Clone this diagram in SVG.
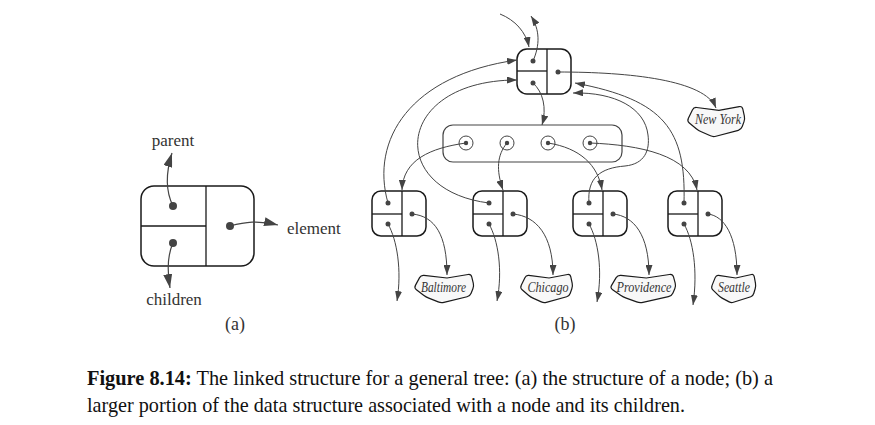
<svg xmlns="http://www.w3.org/2000/svg" width="875" height="425" viewBox="0 0 875 425">
<style>
.box{fill:#fff;stroke:#1a1a1a;stroke-width:1.5}
.div{stroke:#1a1a1a;stroke-width:1.3;fill:none}
.dot{fill:#444}
.con{fill:none;stroke:#444;stroke-width:1;marker-end:url(#ah)}
.conA{fill:none;stroke:#444;stroke-width:1.2;marker-end:url(#ahA)}
.blob{fill:#f8f8f8;stroke:#1a1a1a;stroke-width:1.2;vector-effect:non-scaling-stroke}
</style>
<defs>
<marker id="ah" markerUnits="userSpaceOnUse" markerWidth="10" markerHeight="7" refX="10" refY="3.5" orient="auto" viewBox="0 0 10 7">
<path d="M0,0 L10,3.5 L0,7 z" fill="#444"/>
</marker>
<marker id="ahA" markerUnits="userSpaceOnUse" markerWidth="14" markerHeight="9" refX="14" refY="4.5" orient="auto" viewBox="0 0 14 9">
<path d="M0,0 L14,4.5 L0,9 z" fill="#444"/>
</marker>
<path id="blobShape" class="blob" d="M1.42,12.36 L5.58,4.64 Q7,2 9.98,2.35 L33,5 L54.04,1.49 Q57,1 57.73,3.91 L59.27,10.09 Q60,13 58.89,15.78 L57.11,20.22 Q56,23 53.08,23.71 L29.92,29.3 Q27,30 24.22,28.89 L14.78,25.11 Q12,24 9.6,22.2 L2.4,16.8 Q0,15 1.42,12.36 Z"/>
</defs>

<!-- (a) -->
<g id="nodeA">
<rect class="box" x="141" y="186" width="113" height="80" rx="13"/>
<line class="div" x1="206" y1="186" x2="206" y2="266"/>
<line class="div" x1="141" y1="226" x2="206" y2="226"/>
<circle class="dot" cx="173" cy="206" r="4"/>
<circle class="dot" cx="173" cy="243" r="4"/>
<circle class="dot" cx="230" cy="226" r="4"/>
</g>
<g id="connectorsA">
<path class="conA" d="M173,206 C165,190 166,172 172,153"/>
<path class="conA" d="M173,243 C167,256 167,270 170,288"/>
<path class="conA" d="M230,226 C245,222 258,220 278,225"/>
</g>
<g font-family="'Liberation Serif','Times New Roman',serif" font-size="17" fill="#333">
<text x="173" y="146" text-anchor="middle">parent</text>
<text x="287" y="234">element</text>
<text x="174" y="305" text-anchor="middle">children</text>
<text x="235" y="330" text-anchor="middle" font-size="18">(a)</text>
<text x="565" y="330" text-anchor="middle" font-size="18">(b)</text>
</g>

<!-- (b) -->
<g id="topNode">
<rect class="box" x="517" y="49" width="54" height="45" rx="10"/>
<line class="div" x1="547" y1="49" x2="547" y2="94"/>
<line class="div" x1="517" y1="71" x2="547" y2="71"/>
<circle class="dot" cx="533" cy="61" r="2.5"/>
<circle class="dot" cx="533" cy="83" r="2.5"/>
<circle class="dot" cx="558" cy="72" r="2.5"/>
</g>
<g id="container">
<rect x="443" y="125" width="179" height="37" rx="10" fill="#fff" stroke="#444" stroke-width="1.2"/>
<circle cx="466" cy="143" r="7" fill="none" stroke="#444"/>
<circle cx="507" cy="143" r="7" fill="none" stroke="#444"/>
<circle cx="548" cy="143" r="7" fill="none" stroke="#444"/>
<circle cx="590" cy="143" r="7" fill="none" stroke="#444"/>
<circle class="dot" cx="466" cy="143" r="2.2"/>
<circle class="dot" cx="507" cy="143" r="2.2"/>
<circle class="dot" cx="548" cy="143" r="2.2"/>
<circle class="dot" cx="590" cy="143" r="2.2"/>
</g>
<g id="child1">
<rect class="box" x="372" y="191" width="54" height="45" rx="9"/>
<line class="div" x1="402" y1="191" x2="402" y2="236"/>
<line class="div" x1="372" y1="214" x2="402" y2="214"/>
<circle class="dot" cx="388" cy="203" r="2.5"/>
<circle class="dot" cx="388" cy="224" r="2.5"/>
<circle class="dot" cx="412" cy="214" r="2.5"/>
</g>
<g id="child2">
<rect class="box" x="473" y="191" width="54" height="45" rx="9"/>
<line class="div" x1="503" y1="191" x2="503" y2="236"/>
<line class="div" x1="473" y1="214" x2="503" y2="214"/>
<circle class="dot" cx="489" cy="203" r="2.5"/>
<circle class="dot" cx="489" cy="224" r="2.5"/>
<circle class="dot" cx="513" cy="214" r="2.5"/>
</g>
<g id="child3">
<rect class="box" x="573" y="191" width="54" height="45" rx="9"/>
<line class="div" x1="603" y1="191" x2="603" y2="236"/>
<line class="div" x1="573" y1="214" x2="603" y2="214"/>
<circle class="dot" cx="589" cy="203" r="2.5"/>
<circle class="dot" cx="589" cy="224" r="2.5"/>
<circle class="dot" cx="613" cy="214" r="2.5"/>
</g>
<g id="child4">
<rect class="box" x="668" y="191" width="54" height="45" rx="9"/>
<line class="div" x1="698" y1="191" x2="698" y2="236"/>
<line class="div" x1="668" y1="214" x2="698" y2="214"/>
<circle class="dot" cx="684" cy="203" r="2.5"/>
<circle class="dot" cx="684" cy="224" r="2.5"/>
<circle class="dot" cx="708" cy="214" r="2.5"/>
</g>
<g font-family="'Liberation Serif','Times New Roman',serif" font-style="italic" font-size="14" fill="#333" text-anchor="middle">
<g id="newYork">
<use href="#blobShape" transform="translate(687,105) scale(0.967,1.067)"/>
<text x="718" y="124" textLength="46" lengthAdjust="spacingAndGlyphs">New York</text>
</g>
<g id="baltimore">
<use href="#blobShape" transform="translate(414,273) scale(1,1)"/>
<text x="443.5" y="292" textLength="45" lengthAdjust="spacingAndGlyphs">Baltimore</text>
</g>
<g id="chicago">
<use href="#blobShape" transform="translate(520,273) scale(0.88,1)"/>
<text x="548" y="292" textLength="41" lengthAdjust="spacingAndGlyphs">Chicago</text>
</g>
<g id="providence">
<use href="#blobShape" transform="translate(610,273) scale(1.1,1)"/>
<text x="644" y="292" textLength="55" lengthAdjust="spacingAndGlyphs">Providence</text>
</g>
<g id="seattle">
<use href="#blobShape" transform="translate(711,273) scale(0.75,1)"/>
<text x="734" y="292" textLength="32" lengthAdjust="spacingAndGlyphs">Seattle</text>
</g>
</g>
<g id="connectorsB">
<path class="con" d="M500,14 C515,20 526,32 529,47"/>
<path class="con" d="M533,61 C540,45 540,30 531,16"/>
<path class="con" d="M558,72 C630,72 705,80 716,108"/>
<path class="con" d="M533,83 C543,92 547,108 542,125"/>
<path class="con" d="M388,203 C370,140 410,75 517,60"/>
<path class="con" d="M489,203 C385,190 395,80 517,80"/>
<path class="con" d="M589,203 C587,178 600,168 625,166 C645,164 650,150 648,135 C645,108 615,92 573,93"/>
<path class="con" d="M684,203 C686,130 665,100 575,83"/>
<path class="con" d="M466,143 C430,148 403,160 402,190"/>
<path class="con" d="M507,143 C497,155 496,170 503,190"/>
<path class="con" d="M548,143 C580,148 598,165 602,190"/>
<path class="con" d="M590,143 C640,145 690,155 697,190"/>
<path class="con" d="M412,214 C435,216 447,235 447,275"/>
<path class="con" d="M513,214 C536,216 553,235 553,275"/>
<path class="con" d="M613,214 C634,216 649,235 649,275"/>
<path class="con" d="M708,214 C724,216 737,235 737,275"/>
<path class="con" d="M388,224 C397,240 402,270 397,301"/>
<path class="con" d="M489,224 C498,240 503,270 497,301"/>
<path class="con" d="M589,224 C598,240 603,270 597,302"/>
<path class="con" d="M684,224 C693,240 698,270 693,305"/>
</g>

<g font-family="'Liberation Serif','Times New Roman',serif" font-size="22" fill="#111">
<text x="87" y="385" textLength="686" lengthAdjust="spacingAndGlyphs"><tspan font-weight="bold">Figure 8.14:</tspan> The linked structure for a general tree: (a) the structure of a node; (b) a</text>
<text x="87" y="412" textLength="598" lengthAdjust="spacingAndGlyphs">larger portion of the data structure associated with a node and its children.</text>
</g>
</svg>
